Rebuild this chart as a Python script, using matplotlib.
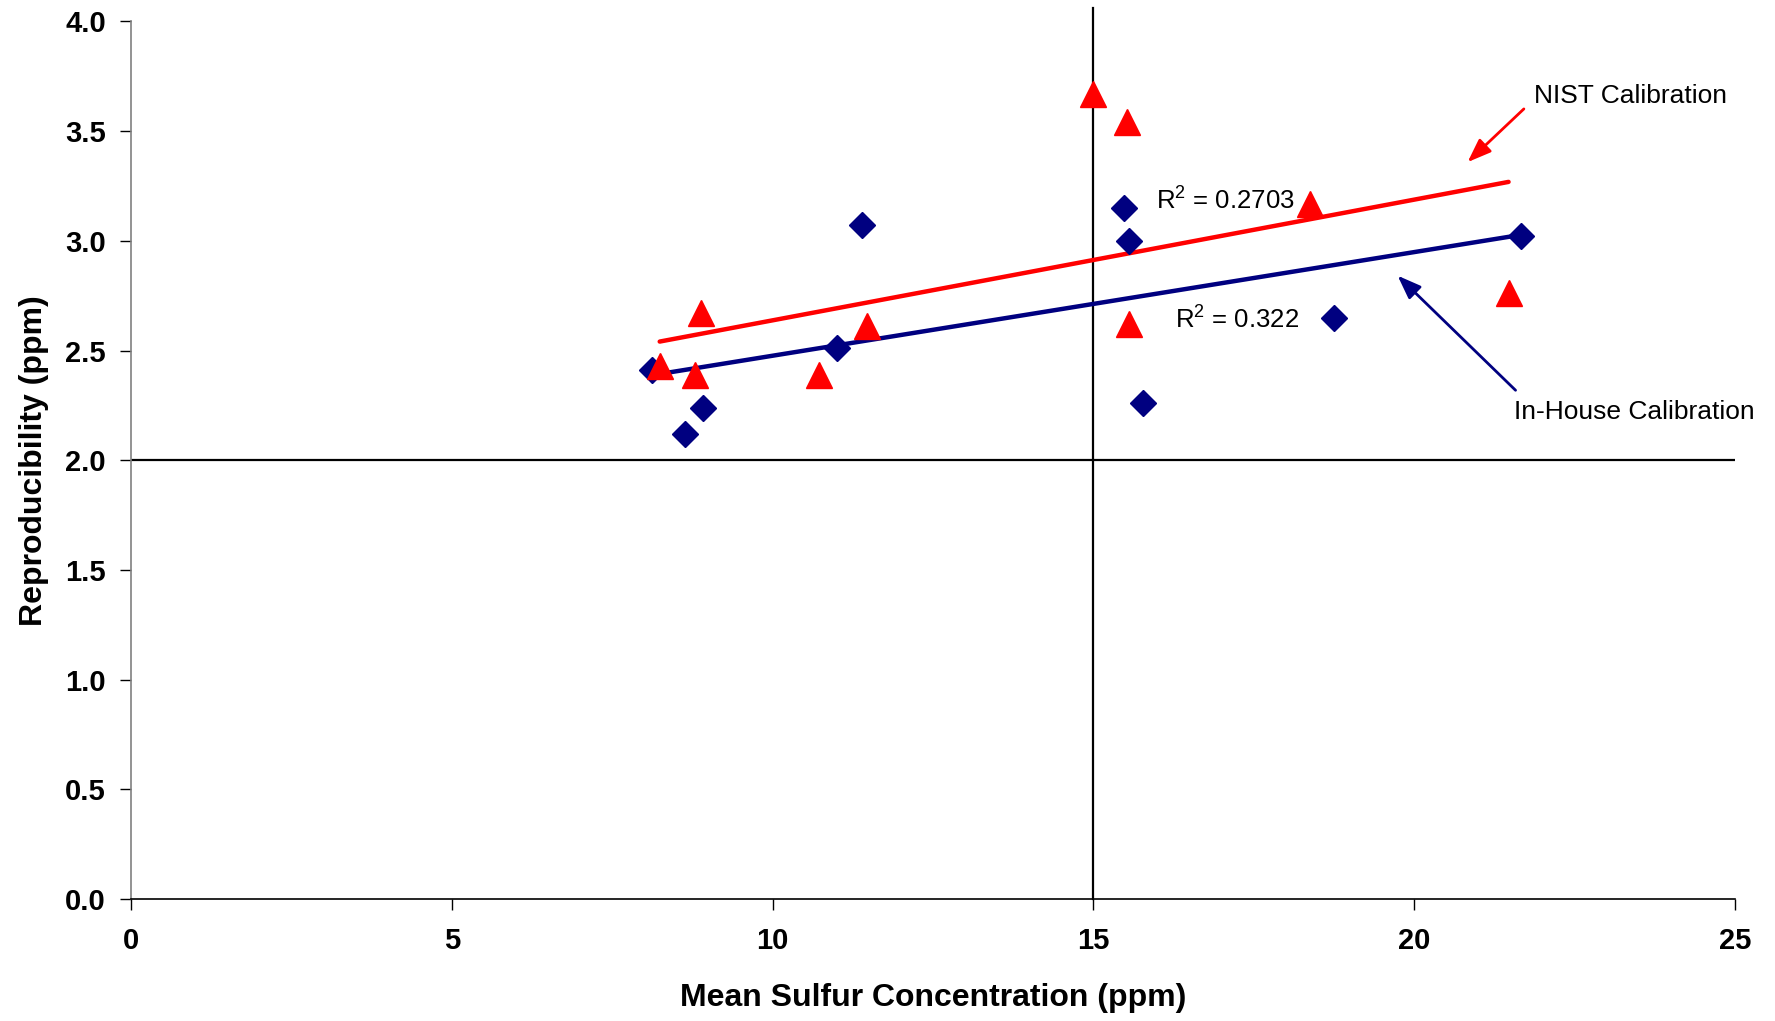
import numpy as np
import matplotlib
matplotlib.use("Agg")
import matplotlib.pyplot as plt

# data
inhouse_x = [8.12, 8.63, 8.91, 11.01, 11.40, 15.47, 15.56, 15.77, 18.75, 21.67]
inhouse_y = [2.41, 2.12, 2.24, 2.51, 3.07, 3.15, 3.00, 2.26, 2.65, 3.02]
nist_x = [8.24, 8.79, 8.89, 10.73, 11.47, 15.00, 15.53, 15.56, 18.38, 21.47]
nist_y = [2.43, 2.39, 2.67, 2.39, 2.61, 3.67, 3.54, 2.62, 3.17, 2.76]
r2_nist = "0.2703"
r2_inhouse = "0.322"
x_ticks = [0, 5, 10, 15, 20, 25]
y_ticks = [0.0, 0.5, 1.0, 1.5, 2.0, 2.5, 3.0, 3.5, 4.0]
spec_x = 15
spec_y = 2.0

RED = "#FF0000"
NAVY = "#000080"

plt.rcParams['font.family'] = ['Liberation Sans', 'DejaVu Sans']
plt.rcParams['mathtext.fontset'] = 'custom'
plt.rcParams['mathtext.rm'] = 'Liberation Sans'
plt.rcParams['mathtext.default'] = 'rm'

fig = plt.figure(figsize=(17.75, 10.21), dpi=100)
ax = fig.add_axes([0.0738, 0.1195, 0.9037, 0.8595])

# reference lines
ax.plot([spec_x, spec_x], [0, 4.06], color="black", lw=1.6, clip_on=False, zorder=1)
ax.plot([0, 25], [spec_y, spec_y], color="black", lw=1.6, zorder=1)

# trend lines
def trend(xs, ys, color):
    k, b = np.polyfit(xs, ys, 1)
    xx = np.array([min(xs), max(xs)])
    ax.plot(xx, k * xx + b, color=color, lw=3.2, solid_capstyle="round", zorder=2)

ax.plot(inhouse_x, inhouse_y, "D", color=NAVY, ms=13, ls="none", zorder=3)
ax.plot(nist_x, nist_y, "^", color=RED, ms=19, ls="none", zorder=3)
trend(nist_x, nist_y, RED)
trend(inhouse_x, inhouse_y, NAVY)

# labels and arrows
ax.text(15.98, 3.18, "R$^{2}$ = " + r2_nist, fontsize=18.5, va="center", ha="left")
ax.text(16.27, 2.64, "R$^{2}$ = " + r2_inhouse, fontsize=18.5, va="center", ha="left")
ax.annotate("", xy=(20.80, 3.35), xytext=(21.74, 3.61),
            arrowprops=dict(arrowstyle="-|>,head_length=0.8,head_width=0.3",
                            color=RED, lw=2, mutation_scale=18))
ax.annotate("", xy=(19.71, 2.85), xytext=(21.61, 2.31),
            arrowprops=dict(arrowstyle="-|>,head_length=0.8,head_width=0.3",
                            color=NAVY, lw=2, mutation_scale=18))
ax.text(21.86, 3.66, "NIST Calibration", fontsize=19, va="center", ha="left")
ax.text(21.56, 2.22, "In-House Calibration", fontsize=19, va="center", ha="left", clip_on=False)

ax.set_xlim(0, 25)
ax.set_ylim(0, 4.0)
ax.set_xticks(x_ticks)
ax.set_yticks(y_ticks)
ax.set_xticklabels([str(v) for v in x_ticks], fontsize=21, fontweight="bold")
ax.set_yticklabels(["%.1f" % v for v in y_ticks], fontsize=21, fontweight="bold")
ax.tick_params(axis="both", direction="out", length=8, width=1)
ax.tick_params(axis="x", pad=12)
ax.tick_params(axis="y", pad=10)

for s in ["top", "right"]:
    ax.spines[s].set_visible(False)
ax.spines["left"].set_color("#808080")
ax.spines["left"].set_linewidth(1.2)
ax.spines["bottom"].set_color("black")
ax.spines["bottom"].set_linewidth(1.2)

ax.set_xlabel("Mean Sulfur Concentration (ppm)", fontsize=23, fontweight="bold", labelpad=20)
ax.set_ylabel("Reproducibility (ppm)", fontsize=23, fontweight="bold", labelpad=12)

fig.savefig("out.png", dpi=100)
